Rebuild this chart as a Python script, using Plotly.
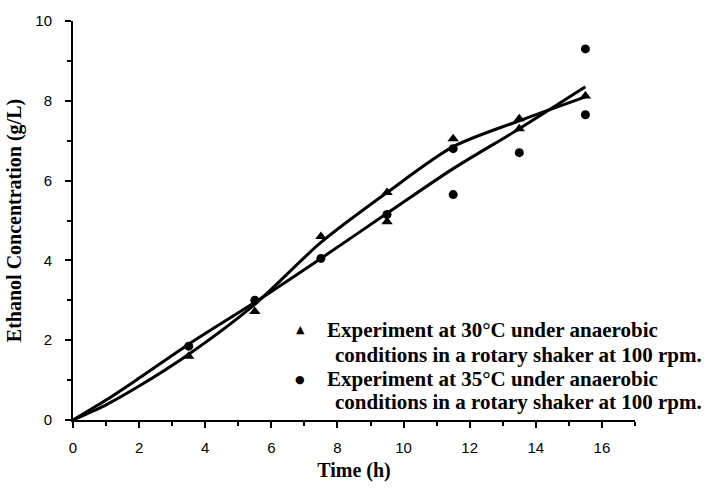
import plotly.graph_objects as go

# Measured ethanol concentrations (g/L) against time (h)
time_30 = [3.5, 5.5, 7.5, 9.5, 9.5, 11.5, 13.5, 13.5, 15.5]
ethanol_30 = [1.6, 2.72, 4.6, 4.97, 5.7, 7.05, 7.55, 7.3, 8.12]

time_35 = [3.5, 5.5, 7.5, 9.5, 11.5, 11.5, 13.5, 15.5, 15.5]
ethanol_35 = [1.85, 3.0, 4.05, 5.15, 6.8, 5.65, 6.7, 9.3, 7.65]

# Fitted production curves
fit_time = [0, 1, 2, 3.5, 5.5, 7.5, 9.5, 11.5, 13.5, 15.5]
fit_30 = [0, 0.38, 0.85, 1.65, 2.9, 4.45, 5.7, 6.85, 7.5, 8.1]
fit_35 = [0, 0.5, 1.05, 1.9, 2.95, 4.05, 5.18, 6.3, 7.3, 8.35]

legend_lines_30 = ["Experiment at 30°C under anaerobic", "conditions in a rotary shaker at 100 rpm."]
legend_lines_35 = ["Experiment at 35°C under anaerobic", "conditions in a rotary shaker at 100 rpm."]

x_ticks = [0, 2, 4, 6, 8, 10, 12, 14, 16]
y_ticks = [0, 2, 4, 6, 8, 10]

serif = "Liberation Serif, Times New Roman, serif"
sans = "Liberation Sans, Arial, sans-serif"

fig = go.Figure()

for fy in (fit_30, fit_35):
    fig.add_trace(go.Scatter(
        x=fit_time, y=fy, mode="lines",
        line=dict(color="black", width=3, shape="spline", smoothing=0.8),
        showlegend=False, hoverinfo="skip"))

fig.add_trace(go.Scatter(
    x=time_30, y=ethanol_30, mode="markers", showlegend=False,
    marker=dict(symbol="triangle-up", size=10, color="black")))
fig.add_trace(go.Scatter(
    x=time_35, y=ethanol_35, mode="markers", showlegend=False,
    marker=dict(symbol="circle", size=9, color="black")))

# Key block in the lower right of the plot area (paper coordinates)
key_font = dict(family=serif, size=21, color="black", weight="bold")
sym_font = dict(family="DejaVu Sans", size=11, color="black")
key_rows = [
    ("▲", legend_lines_30[0], 0.226, 0.4484),
    (None, legend_lines_30[1], 0.163, 0.4626),
    ("●", legend_lines_35[0], 0.102, 0.4484),
    (None, legend_lines_35[1], 0.044, 0.4626),
]
annotations = []
for sym, text, ypos, xpos in key_rows:
    annotations.append(dict(
        xref="paper", yref="paper", x=xpos, y=ypos, xanchor="left", yanchor="middle",
        text=text, showarrow=False, font=key_font))
    if sym:
        annotations.append(dict(
            xref="paper", yref="paper", x=0.404, y=ypos, xanchor="center", yanchor="middle",
            text=sym, showarrow=False, font=sym_font))

fig.update_layout(
    width=706, height=490,
    margin=dict(l=73, r=71, t=19, b=60),
    paper_bgcolor="white", plot_bgcolor="white",
    showlegend=False,
    annotations=annotations,
    xaxis=dict(
        range=[0, 17], tickvals=x_ticks, ticktext=[str(v) for v in x_ticks],
        showgrid=False, zeroline=False,
        showline=True, linecolor="black", linewidth=2,
        ticks="outside", ticklen=6, tickwidth=1.5, tickcolor="black",
        minor=dict(ticks="outside", dtick=1, tick0=0, ticklen=4, tickwidth=1.5, tickcolor="black"),
        tickfont=dict(family=sans, size=15, color="black"),
        ticklabelstandoff=7,
        title=dict(text="Time (h)", font=dict(family=serif, size=20, color="black", weight="bold"), standoff=8),
    ),
    yaxis=dict(
        range=[0, 10], tickvals=y_ticks, ticktext=[str(v) for v in y_ticks],
        showgrid=False, zeroline=False,
        showline=True, linecolor="black", linewidth=2,
        ticks="outside", ticklen=6, tickwidth=1.5, tickcolor="black",
        minor=dict(ticks="outside", dtick=1, tick0=0, ticklen=4, tickwidth=1.5, tickcolor="black"),
        tickfont=dict(family=sans, size=15, color="black"),
        ticklabelstandoff=10,
        title=dict(text="Ethanol Concentration (g/L)", font=dict(family=serif, size=20, color="black", weight="bold"), standoff=8),
    ),
)

fig.write_html("out.html")
